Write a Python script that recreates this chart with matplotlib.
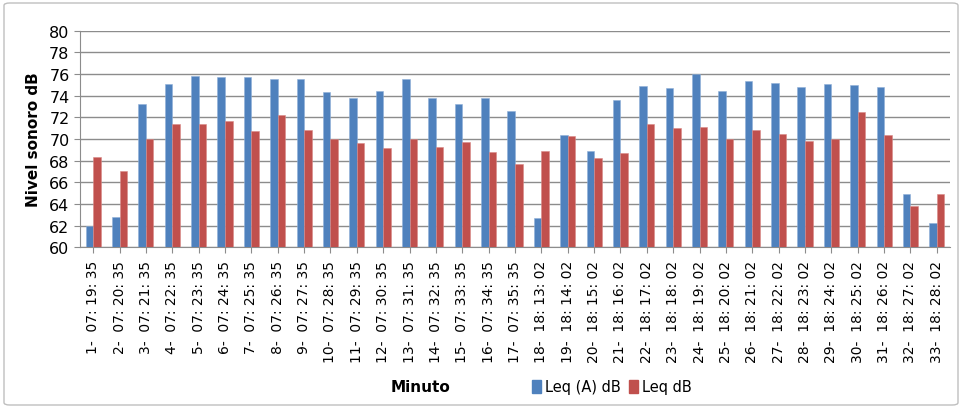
import numpy as np
import matplotlib
matplotlib.use("Agg")
import matplotlib.pyplot as plt
from matplotlib.patches import FancyBboxPatch, Patch

# Data
times = ["07:19:35", "07:20:35", "07:21:35", "07:22:35", "07:23:35", "07:24:35",
         "07:25:35", "07:26:35", "07:27:35", "07:28:35", "07:29:35", "07:30:35",
         "07:31:35", "07:32:35", "07:33:35", "07:34:35", "07:35:35", "18:13:02",
         "18:14:02", "18:15:02", "18:16:02", "18:17:02", "18:18:02", "18:19:02",
         "18:20:02", "18:21:02", "18:22:02", "18:23:02", "18:24:02", "18:25:02",
         "18:26:02", "18:27:02", "18:28:02"]
leq_a = [62.0, 62.8, 73.2, 75.1, 75.8, 75.7, 75.7, 75.5, 75.5, 74.3, 73.8, 74.4,
         75.5, 73.8, 73.2, 73.8, 72.6, 62.7, 70.4, 68.9, 73.6, 74.9, 74.7, 76.0,
         74.4, 75.4, 75.2, 74.8, 75.1, 75.0, 74.8, 64.9, 62.2]
leq = [68.3, 67.0, 70.0, 71.4, 71.4, 71.7, 70.7, 72.2, 70.8, 70.0, 69.6, 69.2,
       70.0, 69.3, 69.7, 68.8, 67.7, 68.9, 70.3, 68.2, 68.7, 71.4, 71.0, 71.1,
       70.0, 70.8, 70.5, 69.8, 70.0, 72.5, 70.4, 63.8, 64.9]
labels = [f"{i + 1}-  " + t.replace(":", ": ") for i, t in enumerate(times)]

blue = '#4F81BD'
red = '#C0504D'

fig = plt.figure(figsize=(9.62, 4.10), dpi=100)
ax = fig.add_axes([80 / 962, 1 - 248.3 / 410, 870 / 962, 216.6 / 410])

# Chart area border
fig.patches.append(FancyBboxPatch((4 / 962, 4 / 410), 954 / 962, 402 / 410,
                                  boxstyle='round,pad=0,rounding_size=0.006',
                                  transform=fig.transFigure, facecolor='none',
                                  edgecolor='#BFBFBF', linewidth=1))

x = np.arange(len(labels))
w = 0.285
ax.bar(x - w / 2, np.array(leq_a) - 60, w, bottom=60, color=blue,
       edgecolor='#8FB0D8', linewidth=0.4, zorder=3)
ax.bar(x + w / 2, np.array(leq) - 60, w, bottom=60, color=red,
       edgecolor='#D88A88', linewidth=0.4, zorder=3)

ax.set_xlim(-0.5, len(labels) - 0.5)
ax.set_ylim(60, 80)
ax.set_yticks(np.arange(60, 81, 2))
ax.yaxis.grid(True, color='#8C8C8C', linewidth=1, zorder=0)
ax.set_axisbelow(True)
ax.set_xticks(x)
ax.set_xticklabels(labels, rotation=90, fontsize=10, family='DejaVu Sans')
ax.tick_params(axis='y', labelsize=11.5, length=4, color='#8C8C8C')
ax.tick_params(axis='x', length=4, color='#8C8C8C', pad=5)
for s in ['top', 'right']:
    ax.spines[s].set_visible(False)
ax.spines['left'].set_color('#8C8C8C')
ax.spines['bottom'].set_color('#8C8C8C')

ax.set_ylabel('Nivel sonoro dB', fontsize=11, fontweight='bold', labelpad=6)

fig.text(420 / 962, 1 - 388 / 410, 'Minuto', fontsize=11, fontweight='bold',
         ha='center', va='center')
handles = [Patch(color=blue, label='Leq (A) dB'), Patch(color=red, label='Leq dB')]
fig.legend(handles=handles, loc='center', bbox_to_anchor=(612 / 962, 1 - 388 / 410),
           ncol=2, frameon=False, fontsize=10.5, handlelength=0.6, handleheight=0.9,
           handletextpad=0.3, columnspacing=0.6)

plt.savefig('out.png', dpi=100, facecolor='white')
